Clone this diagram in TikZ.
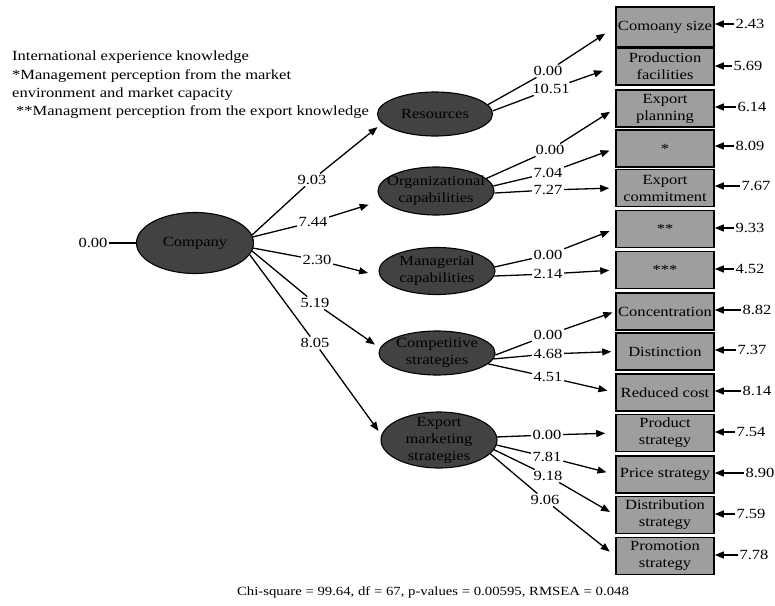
\documentclass[tikz,border=0pt]{standalone}
\usepackage{fontspec}
\setmainfont{Liberation Serif}[FakeStretch=1.18]
\usepackage{tikz}
\usetikzlibrary{arrows.meta, positioning, shapes.geometric}
\definecolor{Latcolor}{RGB}{66,66,66}
\definecolor{Obscolor}{RGB}{158,158,158}

\begin{document}
\begin{tikzpicture}[x=1pt, y=-1pt,
  txt/.style={font=\fontsize{14}{18.3}\selectfont},
  lat/.style={ellipse, draw=black, line width=1.1pt, fill=Latcolor,
              inner xsep=-12pt, inner ysep=-8pt, align=center,
              font=\fontsize{14}{17}\selectfont},
  obs/.style={rectangle, draw=black, line width=1.6pt, fill=Obscolor,
              minimum width=98pt, minimum height=37pt, inner sep=0pt,
              align=center, font=\fontsize{14}{17}\selectfont},
  errv/.style={inner sep=1.5pt, txt},
  lbl/.style={inner sep=1.5pt, txt},
  parr/.style={-{Triangle[length=9pt, width=7pt]}, line width=1.3pt},
  plin/.style={line width=1.3pt},
  note/.style={inner sep=0pt, align=left, txt}
]
\useasboundingbox (0,0) rectangle (775,605);

%% ─── Leyenda y ajuste ───────────────────────────────────────
\node[note, anchor=north west] (leg) at (12,51)
    {International experience knowledge\\
     *Management perception from the market\\
     environment and market capacity\\
     \hspace*{4pt}**Managment perception from the export knowledge};
\node[inner sep=0pt, font=\fontsize{12.5}{15}\selectfont] (fit) at (433,592)
    {Chi-square = 99.64, df = 67, p-values = 0.00595, RMSEA = 0.048};

%% ─── Variables latentes ─────────────────────────────────────
\node[lat, minimum width=117pt, minimum height=61pt] (cmp) at (195,243) {Company};
\node[lat, minimum width=115pt, minimum height=44pt] (res) at (435,114) {Resources};
\node[lat, minimum width=116pt, minimum height=48pt] (org) at (436,191)
    {Organizational\\capabilities};
\node[lat, minimum width=116pt, minimum height=47pt] (mgr) at (437,271)
    {Managerial\\capabilities};
\node[lat, minimum width=116pt, minimum height=44pt] (cst) at (437,353)
    {Competitive\\strategies};
\node[lat, minimum width=116pt, minimum height=56pt] (ems) at (439,440)
    {Export\\marketing\\strategies};

\node[lbl] (c0) at (93,243) {0.00};
\draw[plin] (c0) -- (cmp);

%% ─── Variables observadas ───────────────────────────────────
\node[obs, minimum height=40pt] (o1)  at (665,27)    {Comoany size};
\node[obs] (o2)  at (665,66.5)  {Production\\facilities};
\node[obs] (o3)  at (665,108.5) {Export\\planning};
\node[obs] (o4)  at (665,148.5) {*};
\node[obs] (o5)  at (665,188)   {Export\\commitment};
\node[obs] (o6)  at (665,229)   {**};
\node[obs] (o7)  at (665,270)   {***};
\node[obs] (o8)  at (665,311.5) {Concentration};
\node[obs] (o9)  at (665,351.5) {Distinction};
\node[obs] (o10) at (665,392.5) {Reduced cost};
\node[obs] (o11) at (665,433)   {Product\\strategy};
\node[obs] (o12) at (665,474.5) {Price strategy};
\node[obs] (o13) at (665,515)   {Distribution\\strategy};
\node[obs] (o14) at (665,556)   {Promotion\\strategy};

%% ─── Errores ────────────────────────────────────────────────
\node[errv] (e1)  at (750,24)  {2.43};
\node[errv] (e2)  at (748,66)  {5.69};
\node[errv] (e3)  at (752,107) {6.14};
\node[errv] (e4)  at (750,146) {8.09};
\node[errv] (e5)  at (756,186) {7.67};
\node[errv] (e6)  at (750,228) {9.33};
\node[errv] (e7)  at (750,269) {4.52};
\node[errv] (e8)  at (757,310) {8.82};
\node[errv] (e9)  at (752,350) {7.37};
\node[errv] (e10) at (757,391) {8.14};
\node[errv] (e11) at (751,432) {7.54};
\node[errv] (e12) at (760,473) {8.90};
\node[errv] (e13) at (751,514) {7.59};
\node[errv] (e14) at (754,555) {7.78};
\foreach \i in {1,...,14}
  \draw[parr] (e\i.west) -- (e\i.west -| o\i.east);

%% ─── Company -> latentes ────────────────────────────────────
\node[lbl] (k1) at (312,180) {9.03};
\node[lbl] (k2) at (313,222) {7.44};
\node[lbl] (k3) at (317,260) {2.30};
\node[lbl] (k4) at (315,303) {5.19};
\node[lbl] (k5) at (315,343) {8.05};
\draw[plin] (cmp.8)   -- (k1);
\draw[plin] (cmp.6)   -- (k2);
\draw[plin] (cmp.-5)  -- (k3);
\draw[plin] (cmp.-8)  -- (k4);
\draw[plin] (cmp.-12) -- (k5);
\draw[parr, shorten >=6pt]  (k1) -- (res.190);
\draw[parr, shorten >=14pt] (k2) -- (org.190);
\draw[parr, shorten >=12pt] (k3) -- (mgr.185);
\draw[parr, shorten >=6pt]  (k4) -- (cst.175);
\draw[parr, shorten >=5pt]  (k5) -- (ems.175);

%% ─── Latentes -> observadas ─────────────────────────────────
\node[lbl] (l1)  at (548,71)  {0.00};
\node[lbl] (l2)  at (551,89)  {10.51};
\node[lbl] (l3)  at (550,150) {0.00};
\node[lbl] (l4)  at (548,173) {7.04};
\node[lbl] (l5)  at (548,190) {7.27};
\node[lbl] (l6)  at (548,255) {0.00};
\node[lbl] (l7)  at (548,274) {2.14};
\node[lbl] (l8)  at (548,335) {0.00};
\node[lbl] (l9)  at (548,354) {4.68};
\node[lbl] (l10) at (548,377) {4.51};
\node[lbl] (l11) at (547,435) {0.00};
\node[lbl] (l12) at (547,457) {7.81};
\node[lbl] (l13) at (548,476) {9.18};
\node[lbl] (l14) at (545,500) {9.06};

\draw[plin] (res.10)  -- (l1);
\draw[plin] (res.3)   -- (l2);
\draw[plin] (org.14)  -- (l3);
\draw[plin] (org.5)   -- (l4);
\draw[plin] (org.-2)  -- (l5);
\draw[plin] (mgr.4)   -- (l6);
\draw[plin] (mgr.-5)  -- (l7);
\draw[plin] (cst.-2)  -- (l8);
\draw[plin] (cst.-6)  -- (l9);
\draw[plin] (cst.-12) -- (l10);
\draw[plin] (ems.3)   -- (l11);
\draw[plin] (ems.-5)  -- (l12);
\draw[plin] (ems.-10) -- (l13);
\draw[plin] (ems.-15) -- (l14);

\draw[parr, shorten >=12pt] (l1)  -- (o1.west);
\draw[parr, shorten >=13pt] (l2)  -- (o2.west);
\draw[parr, shorten >=6pt]  (l3)  -- (o3.west);
\draw[parr, shorten >=6pt]  (l4)  -- (o4.west);
\draw[parr, shorten >=6pt]  (l5)  -- (o5.west);
\draw[parr, shorten >=6pt]  (l6)  -- (o6.west);
\draw[parr, shorten >=6pt]  (l7)  -- (o7.west);
\draw[parr, shorten >=3pt]  (l8)  -- (o8.west);
\draw[parr, shorten >=4pt]  (l9)  -- (o9.west);
\draw[parr, shorten >=8pt]  (l10) -- (o10.west);
\draw[parr, shorten >=10pt] (l11) -- (o11.west);
\draw[parr, shorten >=9pt]  (l12) -- (o12.west);
\draw[parr, shorten >=6pt]  (l13) -- (o13.west);
\draw[parr, shorten >=7pt]  (l14) -- (o14.west);

\end{tikzpicture}
\end{document}
